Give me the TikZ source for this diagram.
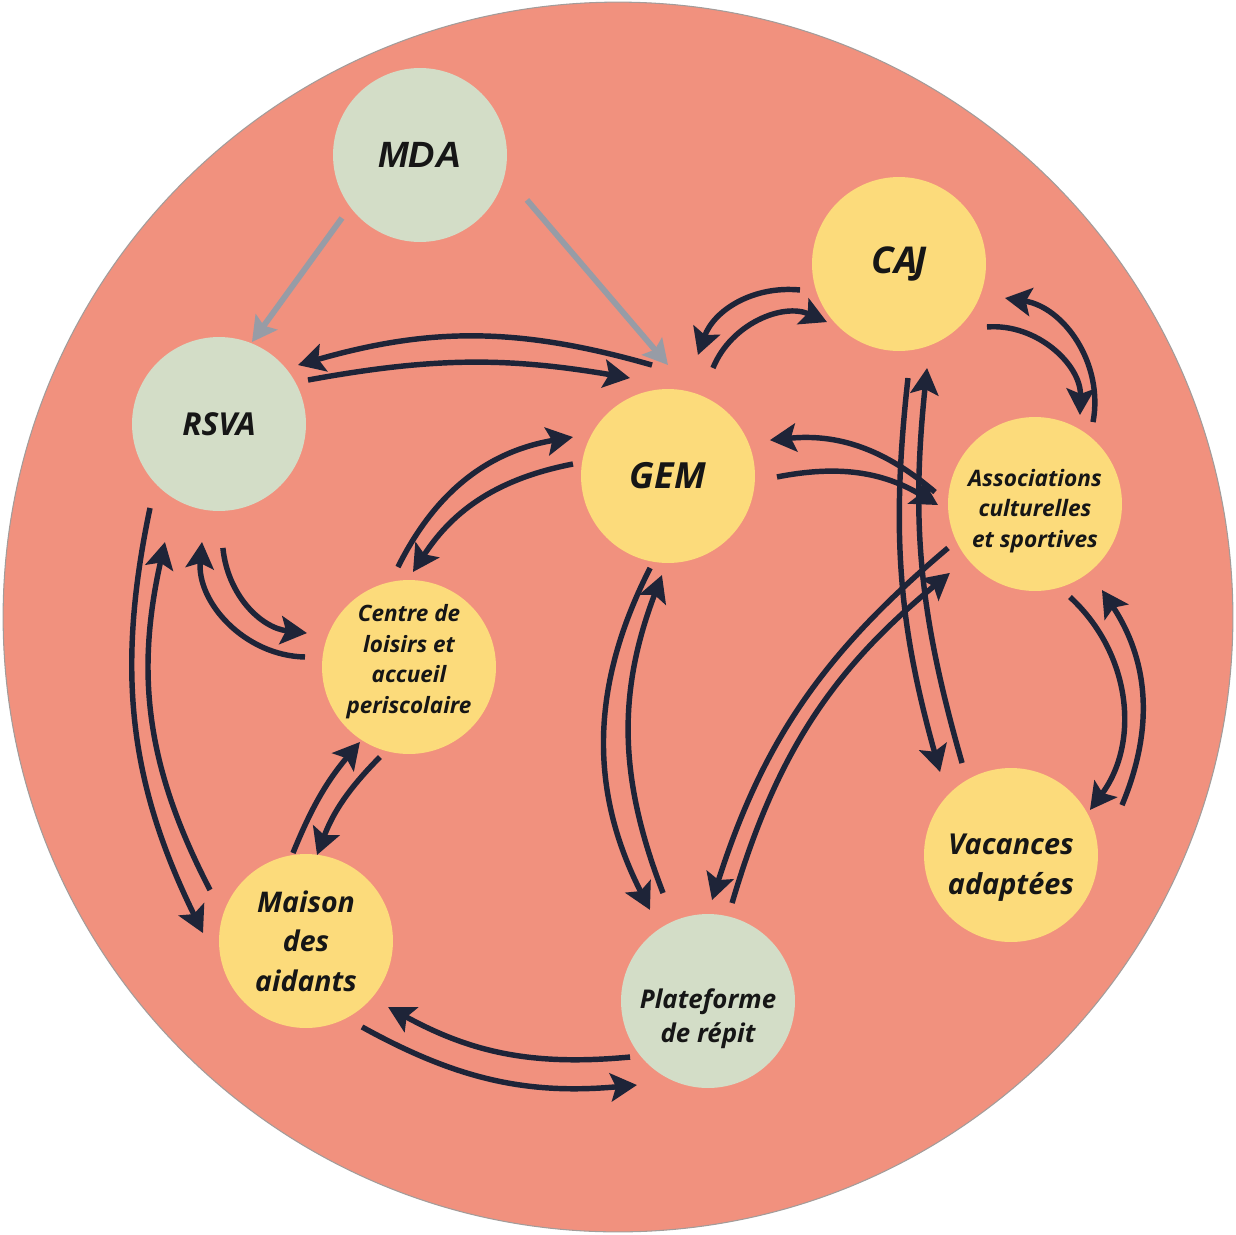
\documentclass[tikz,border=0pt]{standalone}
\usepackage{fontspec}
\setmainfont{Open Sans}
\newfontfamily\arialfont{Liberation Sans}
\usetikzlibrary{arrows.meta}
\definecolor{salmon}{HTML}{F1917E}
\definecolor{rimc}{HTML}{A39C9A}
\definecolor{sagec}{HTML}{D3DDC7}
\definecolor{sunc}{HTML}{FCDB7B}
\definecolor{navy}{HTML}{1E2438}
\definecolor{greyc}{HTML}{979CA6}
\definecolor{txt}{HTML}{161616}
\begin{document}
\begin{tikzpicture}[x=0.02cm,y=0.02cm,
  hub/.style={circle,minimum size=3.48cm,inner sep=0pt,align=center,text=txt},
  sage/.style={hub,fill=sagec},
  sun/.style={hub,fill=sunc},
  sz/.style 2 args={font=\bfseries\itshape\fontsize{#1}{#2}\selectfont},
  lbl/.style={align=center,text=txt,inner sep=0pt},
  link/.style={line width=3.1pt,draw=navy,-{Stealth[length=15pt,width=16pt,inset=3pt]}},
  feed/.style={line width=3.3pt,draw=greyc,-{Stealth[length=14pt,width=15pt,inset=2.5pt]}}]
\useasboundingbox (0,0) rectangle (1236,-1234);
\fill[white] (0,0) rectangle (1236,-1234);
\draw[fill=salmon,draw=rimc,line width=0.6pt] (618,-617) circle[radius=12.3cm];

% nodes
\node[sage,font=\arialfont\bfseries\itshape\fontsize{20.8}{24}\selectfont] (mda) at (420,-155) {MDA};
\node[sun,sz={21}{25}] (caj) at (899,-264) {CA\kern-0.09em J};
\node[sage,sz={18}{22}] (rsva) at (219,-424) {RSVA};
\node[sun,sz={20.5}{25}] (gem) at (668,-476) {GEM};
\node[sun,label={[lbl,sz={12.9}{17.2},yshift=-4]center:Associations\\culturelles\\et sportives}] (assoc) at (1035,-504) {};
\node[sun,label={[lbl,sz={12.8}{17.3},yshift=3]center:Centre de\\loisirs et\\accueil\\periscolaire}] (centre) at (409,-667) {};
\node[sun,sz={16.2}{22.5}] (maison) at (306,-941) {Maison\\des\\aidants};
\node[sage,label={[lbl,sz={14.7}{19.3},yshift=-10]center:Plateforme\\de répit}] (plat) at (708,-1001) {};
\node[sun,label={[lbl,sz={16.4}{22.7},yshift=-7]center:Vacances\\adaptées}] (vac) at (1011,-855) {};

% MDA feeds
\draw[feed] ([shift={(218.9:100.3)}]mda.center) -- ([shift={(68.1:88.4)}]rsva.center);
\draw[feed] ([shift={(-22.8:116)}]mda.center) -- ([shift={(90:111)}]gem.center);

% RSVA -- GEM
\draw[link] ([shift={(98.2:112.1)}]gem.center) to[bend right=16] ([shift={(36.7:98.6)}]rsva.center);
\draw[link] ([shift={(26.3:99.3)}]rsva.center) to[bend left=10] ([shift={(111.2:105.1)}]gem.center);

% GEM -- CAJ
\draw[link] ([shift={(194.7:102.4)}]caj.center) to[bend right=38] ([shift={(76.1:124.7)}]gem.center);
\draw[link] ([shift={(67.4:117)}]gem.center) to[bend left=46] ([shift={(218.9:92.5)}]caj.center);

% CAJ -- Associations
\draw[link] ([shift={(54.7:100.4)}]assoc.center) to[bend right=46] ([shift={(-17.8:111.3)}]caj.center);
\draw[link] ([shift={(-35.6:108.2)}]caj.center) to[bend left=48] ([shift={(63.2:99.7)}]assoc.center);

% GEM -- Associations
\draw[link] ([shift={(173.2:100.7)}]assoc.center) to[bend right=23] ([shift={(19.4:108)}]gem.center);
\draw[link] ([shift={(-0.5:109)}]gem.center) to[bend left=21] ([shift={(180.6:97)}]assoc.center);

% CAJ -- Vacances
\draw[link] ([shift={(118:104.2)}]vac.center) to[bend left=11] ([shift={(-74.9:107.7)}]caj.center);
\draw[link] ([shift={(-85.5:114.4)}]caj.center) to[bend right=11] ([shift={(130.5:109.2)}]vac.center);

% Associations -- Vacances
\draw[link] ([shift={(-69.4:99.4)}]assoc.center) to[bend left=42] ([shift={(29.7:90.9)}]vac.center);
\draw[link] ([shift={(24.2:121.7)}]vac.center) to[bend right=28] ([shift={(-52.1:109)}]assoc.center);

% Plateforme -- Associations
\draw[link] ([shift={(76.2:100.9)}]plat.center) to[bend left=17] ([shift={(219:109.5)}]assoc.center);
\draw[link] ([shift={(206.8:97.5)}]assoc.center) to[bend right=16] ([shift={(87.7:101)}]plat.center);

% GEM -- Plateforme
\draw[link] ([shift={(259:93.7)}]gem.center) to[bend right=27] ([shift={(122.5:108)}]plat.center);
\draw[link] ([shift={(112.6:117)}]plat.center) to[bend left=21] ([shift={(-93.5:99.2)}]gem.center);

% GEM -- Centre
\draw[link] ([shift={(172.8:95.8)}]gem.center) to[bend right=23] ([shift={(87.6:95.1)}]centre.center);
\draw[link] ([shift={(96.3:100.6)}]centre.center) to[bend left=27] ([shift={(157.7:102.7)}]gem.center);

% RSVA -- Centre
\draw[link] ([shift={(-88.2:124)}]rsva.center) to[bend right=39] ([shift={(161.6:107.5)}]centre.center);
\draw[link] ([shift={(174.5:104.5)}]centre.center) to[bend left=47] ([shift={(-98.2:119.2)}]rsva.center);

% RSVA -- Maison
\draw[link] ([shift={(230.6:108.7)}]rsva.center) to[bend right=19] ([shift={(175.6:103.3)}]maison.center);
\draw[link] ([shift={(152:108.7)}]maison.center) to[bend left=20] ([shift={(245.4:129.8)}]rsva.center);

% Maison -- Centre
\draw[link] ([shift={(98.4:89)}]maison.center) to[bend left=9] ([shift={(236.8:89.6)}]centre.center);
\draw[link] ([shift={(252.1:94.6)}]centre.center) to[bend right=12] ([shift={(82.7:86.7)}]maison.center);

% Plateforme -- Maison
\draw[link] ([shift={(215.7:96)}]plat.center) to[bend left=17] ([shift={(-38.8:105.3)}]maison.center);
\draw[link] ([shift={(-56.9:102.6)}]maison.center) to[bend right=17] ([shift={(229.8:110)}]plat.center);
\end{tikzpicture}
\end{document}
